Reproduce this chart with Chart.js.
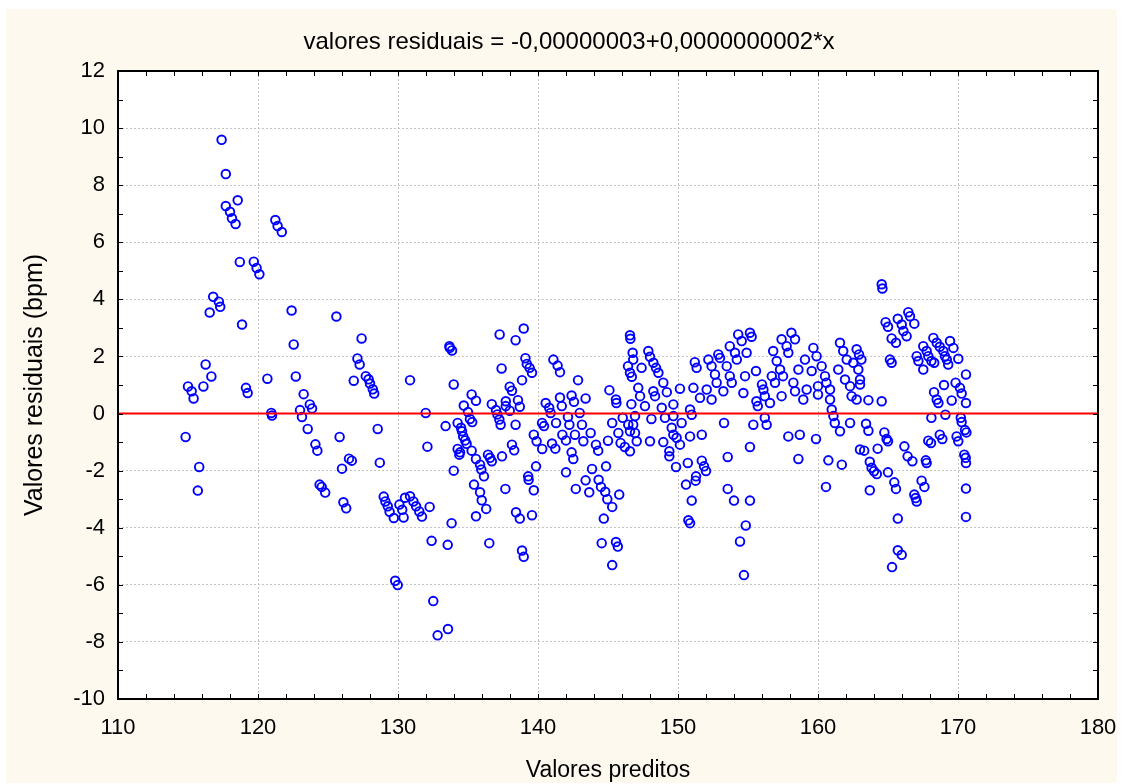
<!DOCTYPE html>
<html>
<head>
<meta charset="utf-8">
<script src="https://cdn.jsdelivr.net/npm/chart.js@4/dist/chart.umd.min.js"></script>
<style>
  html, body { margin: 0; padding: 0; background: #fff; }
  #wrap { width: 1123px; height: 784px; }
</style>
</head>
<body>
<div id="wrap"><canvas id="grafico" width="1123" height="784"></canvas></div>
<script>
const xTicks = [110, 120, 130, 140, 150, 160, 170, 180];
const yTicks = [-10, -8, -6, -4, -2, 0, 2, 4, 6, 8, 10, 12];
const titulo = 'valores residuais = -0,00000003+0,0000000002*x';

// valores preditos (x) e residuos (y)
const preditos = [
  115.0, 115.26, 115.4, 114.83, 115.8, 115.7, 116.1, 116.26, 116.67, 116.55, 116.8, 117.2, 117.3,
  117.4, 117.7, 118.55, 117.7, 118.0, 118.14, 118.4, 118.7, 118.86, 119.14, 119.26, 119.7, 119.9, 120.1,
  120.67, 120.95, 121.0, 121.24, 121.4, 121.7, 122.4, 122.55, 122.7, 123.26, 123.0, 123.7, 123.86, 123.14, 123.55,
  124.1, 124.24, 124.4, 124.55, 124.8, 125.6, 125.83, 126.0, 126.1, 126.3, 126.5, 126.7, 126.84,
  127.1, 127.26, 127.4, 127.7, 127.9, 128.0, 128.2, 128.3, 128.55, 128.7,
  128.98, 129.1, 129.27, 129.4, 129.7, 129.8, 129.98, 130.1, 130.3, 130.4, 130.5, 130.86,
  130.86, 131.1, 131.29, 131.52, 131.71, 132.26, 131.98, 132.1, 132.4, 132.52, 132.83, 133.57, 133.55, 133.83, 133.4,
  133.67, 133.7, 133.86, 133.98, 133.98, 134.7, 135.0, 135.26, 135.57,
  134.26, 134.5, 134.57, 134.66, 134.8, 134.9, 135.14, 135.3,
  134.26, 134.43, 134.38, 135.26, 135.57, 135.86, 135.95, 136.14,
  135.43, 135.86, 135.98, 136.3, 135.57, 136.43, 136.57, 136.7, 137.43, 136.52,
  136.7, 137.0, 137.1, 137.24, 137.33, 137.26, 137.4, 138.4, 138.98,
  139.1, 139.2, 139.4, 139.57, 138.86, 137.98, 138.14,
  137.7, 138.57, 137.7, 138.7, 137.98, 138.4, 138.14, 138.3, 137.67,
  138.43, 138.7, 139.57, 138.86, 138.98, 139.3, 139.33, 139.7, 139.86,
  139.7, 139.9, 140.3, 140.55, 140.8, 140.9, 140.29, 140.43, 141.0, 141.24,
  141.1, 141.4, 141.57, 141.57, 141.7, 142.4, 142.57, 143.4, 142.86, 142.98,
  141.29, 141.74, 142.0, 142.14, 142.24, 142.64, 143.14, 143.24, 143.76, 144.14, 144.3, 142.4, 142.52,
  142.0, 142.7, 143.4, 143.66, 143.86, 144.33, 144.5, 144.8, 144.95, 145.3, 144.86, 144.7, 145.8,
  144.55, 145.57, 145.7, 145.3, 145.1, 145.57, 145.6,
  145.3, 145.74, 145.9, 146.2, 146.45, 146.57, 145.0, 146.05,
  146.76, 146.8, 146.43, 146.57, 146.7, 146.67,
  146.57, 146.6, 147.4, 147.16, 147.29,
  147.88, 148.0, 148.24, 148.43, 148.6, 148.95, 149.2, 148.24, 148.36, 147.64, 148.84, 149.67, 150.14, 149.67,
  151.2, 151.33, 151.1, 151.57, 150.86,
  152.17, 152.4, 152.64, 152.76, 152.88, 153.0, 153.24, 153.48, 153.7, 153.84, 153.7, 154.07, 154.2, 154.3,
  154.55, 154.9, 154.79, 155.14, 155.26, 154.67, 152.05, 152.4,
  155.57, 156.0, 156.1, 156.2, 155.6, 155.7, 156.57, 156.8, 157.05, 157.29, 156.7, 156.93, 157.4, 157.5,
  157.4, 157.76, 157.88, 158.1, 158.36, 158.24, 158.36, 158.6, 158.95, 159.07, 159.19, 159.55, 159.67, 159.9,
  160.0, 160.0, 160.26, 160.5, 160.6, 160.86, 160.86, 160.98, 161.45, 161.57, 161.8, 161.93, 162.05, 162.29,
  162.4, 162.52, 162.76, 162.88, 163.0,
  146.93, 146.8, 146.93, 147.05, 146.57,
  148.1, 148.0, 149.07, 148.95, 149.55, 149.67, 149.9, 150.14, 150.26, 149.38, 149.38, 149.86, 150.7, 150.86,
  150.98, 151.7, 151.7, 151.86, 152.0, 151.29, 151.26, 150.57, 150.98, 150.74, 150.86,
  153.29, 153.55, 153.55, 154.0, 155.14, 154.84, 154.43, 154.71,
  155.14, 155.38, 156.2, 156.33, 157.88, 158.7, 158.6, 159.86,
  160.74, 161.7, 160.57, 161.1, 161.2, 161.57, 162.29, 163.0,
  164.55, 164.6, 164.83, 165.0, 165.7, 165.98, 166.1, 166.33, 166.45, 166.57, 166.88, 165.26, 165.57,
  162.93, 163.1, 163.0, 162.76, 163.6, 164.55, 165.14, 165.26,
  167.05, 167.17, 167.52, 167.52, 167.76, 167.88, 168.1, 168.3, 168.24, 168.48, 168.7, 168.95, 169.07, 169.3,
  169.43, 169.67, 170.02, 169.2,
  168.29, 168.48, 168.6, 169.0, 169.55, 169.83, 170.14, 170.26, 170.57, 170.57,
  168.1, 169.1, 170.2,
  163.43, 163.6, 164.74, 164.9, 165.0, 163.3, 164.26, 163.7, 163.83, 164.0, 164.2, 163.7, 165.0, 165.45,
  165.57, 165.7, 166.17, 166.4, 166.74, 166.88, 166.98, 167.05, 167.4, 167.6, 167.7, 167.76, 167.88, 168.07,
  168.7, 168.88, 169.9, 170.02, 170.26, 170.5, 170.6, 170.45, 170.55, 170.57, 170.57, 170.57,
  165.7, 165.98, 165.29
];
const residuos = [
  0.95, 0.78, 0.53, -0.82, -1.87, -2.70, 0.95, 1.72, 1.30, 3.54, 4.09, 3.92, 3.74,
  9.59, 8.39, 7.47, 7.27, 7.07, 6.84, 6.64, 5.31, 3.12, 0.90, 0.72, 5.32, 5.10, 4.88,
  1.22, 0.02, -0.07, 6.78, 6.57, 6.36, 3.61, 2.42, 1.30, 0.68, 0.12, 0.32, 0.18, -0.12, -0.54,
  -1.08, -1.30, -2.49, -2.57, -2.77, 3.40, -0.82, -1.93, -3.11, -3.32, -1.58, -1.65, 1.15,
  1.93, 1.72, 2.63, 1.31, 1.20, 1.05, 0.85, 0.70, -0.54, -1.72,
  -2.91, -3.08, -3.25, -3.44, -3.66, -5.86, -6.01, -3.19, -3.37, -3.64, -2.95, 1.17,
  -2.90, -3.08, -3.25, -3.43, -3.61, -3.27, 0.02, -1.16, -4.46, -6.57, -7.77, -7.55, -4.60, -3.84, -0.44,
  2.36, 2.30, 2.21, 1.02, -2.00, 0.28, 0.05, 0.67, 0.45,
  -0.33, -0.50, -0.62, -0.80, -0.94, -1.06, -0.19, -0.30,
  -1.24, -1.36, -1.44, -1.30, -1.59, -1.79, -1.96, -2.20,
  -2.49, -2.76, -3.04, -3.34, -3.60, -1.44, -1.55, -1.67, -1.50, -4.54,
  0.33, 0.12, -0.03, -0.21, -0.39, 2.77, 1.58, 2.57, 2.98,
  1.94, 1.74, 1.60, 1.43, 1.17, 0.94, 0.80,
  0.43, 0.47, 0.26, 0.24, 0.10, -0.39, -1.09, -1.29, -2.64,
  -3.46, -3.68, -3.56, -4.80, -5.02, -2.20, -2.32, -2.69, -1.85,
  -0.74, -0.97, -1.24, 0.37, 0.20, 0.02, -0.33, -0.44, -1.05, -1.23,
  1.89, 1.68, 1.45, 0.56, 0.26, 0.63, 0.41, 0.53, 1.17, 0.02,
  -0.33, -0.74, -0.94, -0.12, -0.39, -0.74, -0.39, -0.97, -0.68, -1.09, -1.30, -1.36, -1.59,
  -2.06, -2.64, -2.34, -2.76, -1.94, -2.32, -2.57, -2.74, -3.00, -3.27, -1.85, -3.68, -2.84,
  -4.54, -4.50, -4.66, -5.31, 0.82, 0.49, 0.37,
  -0.33, -0.68, -1.03, -1.17, -0.39, -0.62, -0.95, -0.15,
  2.13, 1.89, 1.66, 1.43, 1.29, 0.33,
  2.74, 2.62, 1.60, 0.90, 0.61,
  2.19, 1.99, 1.78, 1.60, 1.43, 1.08, 0.75, 0.78, 0.61, 0.26, 0.20, 0.32, 0.87, -0.09,
  1.80, 1.60, 0.90, 0.55, 0.14,
  1.89, 1.66, 1.37, 1.08, 2.07, 1.95, 0.78, 1.66, 1.31, 1.08, 2.36, 2.13, 1.89, 2.77,
  2.54, 2.13, 1.31, 2.83, 2.69, 0.72, 0.84, 0.49,
  1.49, 1.02, 0.84, 0.61, 0.43, 0.26, 0.37, 2.19, 1.84, 1.54, 1.31, 1.08, 0.61, 1.31,
  2.60, 2.36, 2.13, 2.83, 2.60, 1.08, 0.78, 1.54, 0.49, 1.89, 0.84, 1.49, 2.30, 2.01,
  0.96, 0.67, 1.66, 1.31, 1.08, 0.84, 0.49, 0.14, 1.54, 2.48, 2.19, 1.19, 1.89, 0.96,
  0.61, 1.78, 2.25, 1.54, 1.19,
  -0.09, -0.39, -0.68, -0.97, -1.32,
  -0.19, -0.97, -0.15, -1.00, -0.50, -0.74, -0.85, -1.09, -0.33, -1.32, -1.50, -1.87, -1.73, -0.80,
  -0.04, -0.74, -1.65, -1.85, -2.01, -2.20, -2.35, -2.49, -3.05, -3.74, -3.84,
  -0.33, -1.52, -2.64, -3.05, -3.05, -3.92, -4.48, -5.66,
  -1.17, -0.39, -0.15, -0.39, -0.80, -0.74, -1.59, -0.89,
  -1.64, -1.79, -2.57, -0.09, -0.33, -0.62, -0.33, -1.26,
  4.53, 4.38, 3.20, 3.04, 3.32, 3.12, 2.89, 2.71, 3.55, 3.41, 3.15, 2.63, 2.48,
  2.07, 1.89, 1.02, 0.49, 0.47, 0.43, 1.89, 1.78,
  2.01, 1.84, 1.54, 2.36, 2.19, 2.01, 1.84, 1.78, 2.65, 2.48, 2.34, 2.19, 2.01, 1.72,
  2.54, 2.30, 1.92, 1.89,
  0.75, 0.49, 0.37, 1.00, 0.46, 1.08, 0.90, 0.70, 1.37, 0.37,
  -0.15, -0.04, -0.15,
  -0.36, -0.60, -0.66, -0.89, -0.97, -1.30, -1.23, -1.69, -1.90, -2.02, -2.12, -2.69, -2.06, -2.41,
  -2.64, -3.68, -1.15, -1.50, -1.67, -2.84, -2.96, -3.08, -2.35, -2.57, -1.64, -1.73, -0.95, -1.03,
  -0.74, -0.89, -0.80, -0.97, -0.30, -0.58, -0.66, -1.44, -1.55, -1.73, -2.63, -3.62,
  -4.79, -4.95, -5.38
];

// reta de regressao y = 0
const retaX = [110, 180];
const retaY = [0, 0];

const fonte = "'Liberation Sans', Arial, sans-serif";

const pontos = preditos.map((x, i) => ({ x: x, y: residuos[i] }));
const reta = retaX.map((x, i) => ({ x: x, y: retaY[i] }));

const fundo = {
  id: 'fundo',
  beforeDraw(chart) {
    const ctx = chart.ctx;
    const a = chart.chartArea;
    ctx.save();
    ctx.fillStyle = '#ffffff';
    ctx.fillRect(0, 0, chart.width, chart.height);
    ctx.fillStyle = '#fdf9ee';
    ctx.fillRect(6, 9, chart.width - 12, chart.height - 10);
    ctx.fillStyle = '#ffffff';
    ctx.fillRect(a.left, a.top, a.right - a.left, a.bottom - a.top);
    ctx.restore();
  }
};

// moldura preta com marcas para dentro, e o titulo
const moldura = {
  id: 'moldura',
  afterDraw(chart) {
    const ctx = chart.ctx;
    const a = chart.chartArea;
    const sx = chart.scales.x, sy = chart.scales.y;
    ctx.save();
    ctx.strokeStyle = '#000';
    ctx.lineWidth = 1;
    ctx.beginPath();
    for (let v = 110; v <= 180; v += 2) {
      const px = Math.round(sx.getPixelForValue(v)) + 0.5;
      ctx.moveTo(px, a.bottom); ctx.lineTo(px, a.bottom - 5);
      ctx.moveTo(px, a.top); ctx.lineTo(px, a.top + 5);
    }
    for (let v = -10; v <= 12; v += 1) {
      const py = Math.round(sy.getPixelForValue(v)) + 0.5;
      ctx.moveTo(a.left, py); ctx.lineTo(a.left + 5, py);
      ctx.moveTo(a.right, py); ctx.lineTo(a.right - 5, py);
    }
    ctx.stroke();
    ctx.lineWidth = 2;
    ctx.strokeRect(a.left, a.top, a.right - a.left, a.bottom - a.top);

    ctx.fillStyle = '#000';
    ctx.font = '24px ' + fonte;
    ctx.textAlign = 'center';
    ctx.textBaseline = 'middle';
    ctx.fillText(titulo, 569, 42);
    ctx.restore();
  }
};

const grade = { color: '#c4c4c4', lineWidth: 1, drawTicks: false };

const ctx = document.getElementById('grafico').getContext('2d');
const grafico = new Chart(ctx, {
  type: 'scatter',
  data: {
    datasets: [
      {
        type: 'line',
        data: reta,
        borderColor: '#ff0000',
        borderWidth: 2,
        pointRadius: 0,
        order: 0
      },
      {
        data: pontos,
        pointStyle: 'circle',
        pointRadius: 4.3,
        borderWidth: 1.9,
        borderColor: '#0000ff',
        backgroundColor: 'rgba(0,0,0,0)',
        order: 1
      }
    ]
  },
  options: {
    responsive: false,
    animation: false,
    devicePixelRatio: 1,
    layout: { padding: { left: 0, right: 25, top: 71, bottom: 0 } },
    plugins: {
      legend: { display: false },
      tooltip: { enabled: false },
      title: { display: false }
    },
    scales: {
      x: {
        type: 'linear',
        min: 110,
        max: 180,
        afterBuildTicks: (s) => { s.ticks = xTicks.map(v => ({ value: v })); },
        afterFit: (s) => { s.height = 85; s.paddingLeft = 0; s.paddingRight = 0; },
        border: { display: false, dash: [2, 2] },
        grid: grade,
        ticks: { color: '#000', font: { family: fonte, size: 22 }, padding: 16, maxRotation: 0 },
        title: {
          display: true,
          text: 'Valores preditos',
          color: '#000',
          font: { family: fonte, size: 23 },
          padding: { top: 0, bottom: 0 }
        }
      },
      y: {
        type: 'linear',
        min: -10,
        max: 12,
        afterBuildTicks: (s) => { s.ticks = yTicks.map(v => ({ value: v })); },
        afterFit: (s) => { s.width = 118; s.paddingTop = 0; s.paddingBottom = 0; },
        border: { display: false, dash: [2, 2] },
        grid: grade,
        ticks: { color: '#000', font: { family: fonte, size: 22 }, padding: 13 },
        title: {
          display: true,
          text: 'Valores residuais (bpm)',
          color: '#000',
          font: { family: fonte, size: 25 },
          padding: { top: 20, bottom: 0 }
        }
      }
    }
  },
  plugins: [fundo, moldura]
});
</script>
</body>
</html>
